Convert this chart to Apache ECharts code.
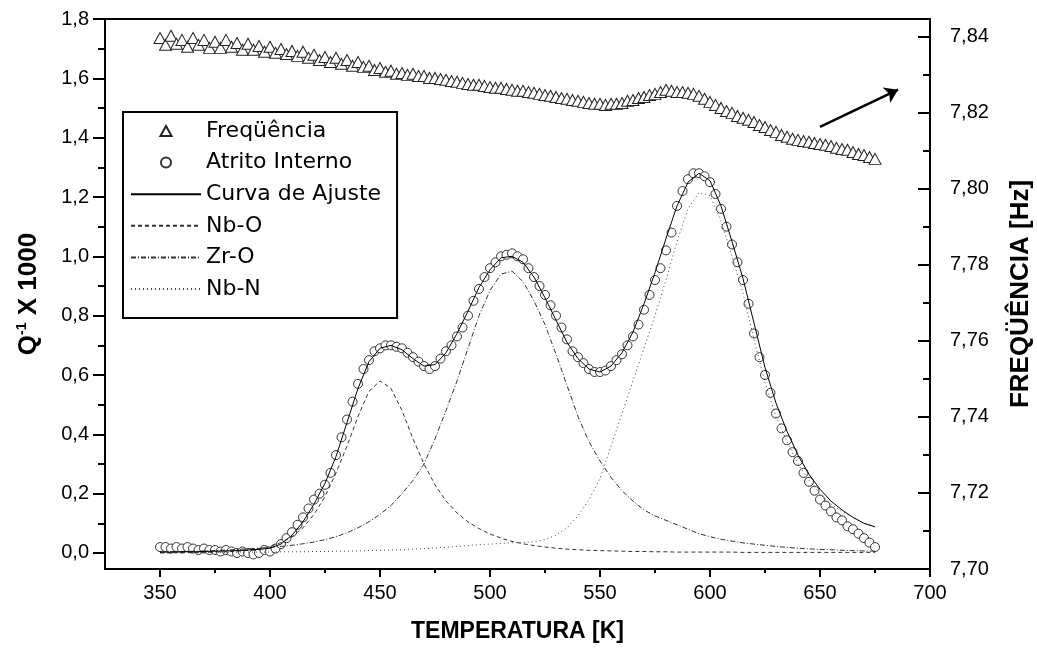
<!DOCTYPE html>
<html><head><meta charset="utf-8">
<script src="https://cdn.jsdelivr.net/npm/echarts@6/dist/echarts.min.js"></script>
<style>html,body{margin:0;padding:0;background:#fff}#c{width:1037px;height:651px}</style>
</head><body><div id="c"></div><script>
// ---- data ----
const scatterTemps = [350,352.5,355,357.5,360,362.5,365,367.5,370,372.5,375,377.5,380,382.5,385,387.5,390,392.5,395,397.5,
400,402.5,405,407.5,410,412.5,415,417.5,420,422.5,425,427.5,430,432.5,435,437.5,440,442.5,445,447.5,
450,452.5,455,457.5,460,462.5,465,467.5,470,472.5,475,477.5,480,482.5,485,487.5,490,492.5,495,497.5,
500,502.5,505,507.5,510,512.5,515,517.5,520,522.5,525,527.5,530,532.5,535,537.5,540,542.5,545,547.5,
550,552.5,555,557.5,560,562.5,565,567.5,570,572.5,575,577.5,580,582.5,585,587.5,590,592.5,595,597.5,
600,602.5,605,607.5,610,612.5,615,617.5,620,622.5,625,627.5,630,632.5,635,637.5,640,642.5,645,647.5,
650,652.5,655,657.5,660,662.5,665,667.5,670,672.5,675];
const frequency = [7.8397,7.8379,7.8403,7.8382,7.8392,7.8374,7.8397,7.8379,7.8392,7.8371,7.8387,7.8371,7.8392,7.8374,7.8384,7.8366,7.8382,7.8366,7.8376,7.8361,
7.8374,7.8358,7.8368,7.8355,7.8363,7.8350,7.8361,7.8345,7.8353,7.8339,7.8347,7.8334,7.8345,7.8329,7.8339,7.8324,7.8334,7.8321,7.8324,7.8313,
7.8318,7.8308,7.8311,7.8303,7.8305,7.8300,7.8303,7.8297,7.8297,7.8292,7.8292,7.8289,7.8287,7.8284,7.8282,7.8279,7.8276,7.8274,7.8274,7.8271,
7.8268,7.8266,7.8266,7.8263,7.8261,7.8258,7.8258,7.8255,7.8253,7.8250,7.8247,7.8245,7.8242,7.8239,7.8237,7.8234,7.8232,7.8229,7.8226,7.8224,
7.8224,7.8221,7.8224,7.8224,7.8226,7.8232,7.8234,7.8239,7.8242,7.8247,7.8250,7.8255,7.8261,7.8258,7.8255,7.8255,7.8253,7.8250,7.8245,7.8237,
7.8229,7.8221,7.8213,7.8205,7.8200,7.8192,7.8187,7.8182,7.8176,7.8168,7.8163,7.8155,7.8150,7.8142,7.8137,7.8132,7.8129,7.8126,7.8124,7.8121,
7.8118,7.8116,7.8113,7.8108,7.8105,7.8103,7.8097,7.8092,7.8089,7.8084,7.8079];
const internalFriction = [0.02,0.02,0.015,0.02,0.015,0.02,0.015,0.01,0.015,0.01,0.01,0.005,0.01,0.005,0.0,0.005,0.0,-0.005,0.0,0.01,
0.005,0.015,0.03,0.05,0.07,0.095,0.12,0.15,0.18,0.2,0.23,0.27,0.33,0.39,0.45,0.51,0.57,0.62,0.65,0.68,
0.69,0.7,0.7,0.695,0.69,0.675,0.66,0.645,0.63,0.62,0.63,0.655,0.68,0.7,0.73,0.76,0.8,0.85,0.89,0.93,
0.96,0.98,1.0,1.005,1.01,1.0,0.99,0.96,0.93,0.9,0.87,0.835,0.8,0.76,0.72,0.68,0.66,0.64,0.62,0.61,
0.61,0.615,0.63,0.65,0.67,0.7,0.73,0.77,0.82,0.87,0.92,0.96,1.02,1.08,1.17,1.22,1.26,1.28,1.28,1.27,
1.25,1.21,1.16,1.1,1.04,0.98,0.92,0.84,0.74,0.66,0.6,0.54,0.47,0.42,0.38,0.34,0.31,0.27,0.24,0.21,
0.18,0.16,0.14,0.12,0.11,0.09,0.08,0.065,0.05,0.035,0.02];
const curveTemps = [350,355,360,365,370,375,380,385,390,395,400,405,410,415,420,425,430,435,440,445,
450,455,460,465,470,475,480,485,490,495,500,505,510,515,520,525,530,535,540,545,
550,555,560,565,570,575,580,585,590,595,600,605,610,615,620,625,630,635,640,645,
650,655,660,665,670,675];
const fitCurve = [0.003,0.003,0.004,0.004,0.005,0.006,0.007,0.008,0.010,0.012,0.016,0.030,0.060,0.105,0.165,0.235,0.325,0.440,0.555,0.645,
0.690,0.700,0.685,0.655,0.630,0.635,0.675,0.740,0.815,0.895,0.955,0.995,1.000,0.980,0.930,0.860,0.785,0.710,0.655,0.620,
0.610,0.630,0.675,0.745,0.840,0.945,1.060,1.170,1.250,1.280,1.255,1.170,1.050,0.925,0.775,0.625,0.505,0.410,0.330,0.265,
0.215,0.175,0.145,0.120,0.100,0.088];
const nbO = [0.000,0.000,0.001,0.001,0.002,0.003,0.004,0.006,0.009,0.014,0.022,0.035,0.055,0.085,0.130,0.190,0.270,0.360,0.460,0.545,
0.580,0.555,0.480,0.385,0.300,0.230,0.175,0.135,0.105,0.082,0.064,0.050,0.039,0.031,0.025,0.020,0.016,0.013,0.011,0.009,
0.008,0.007,0.006,0.005,0.005,0.004,0.004,0.003,0.003,0.003,0.003,0.003,0.003,0.002,0.002,0.002,0.002,0.002,0.002,0.002,
0.002,0.002,0.002,0.002,0.002,0.002];
const zrO = [0.003,0.004,0.005,0.006,0.007,0.008,0.010,0.012,0.014,0.016,0.019,0.022,0.026,0.031,0.037,0.045,0.055,0.068,0.085,0.105,
0.130,0.160,0.200,0.245,0.300,0.385,0.480,0.580,0.690,0.800,0.885,0.940,0.950,0.915,0.850,0.770,0.670,0.565,0.460,0.375,
0.310,0.255,0.210,0.175,0.145,0.125,0.110,0.095,0.080,0.065,0.055,0.046,0.040,0.034,0.030,0.026,0.022,0.019,0.016,0.014,
0.012,0.011,0.009,0.008,0.007,0.006];
const nbN = [0.002,0.002,0.002,0.002,0.002,0.002,0.003,0.003,0.003,0.003,0.003,0.004,0.004,0.004,0.005,0.005,0.006,0.006,0.007,0.008,
0.009,0.010,0.011,0.013,0.015,0.017,0.019,0.022,0.025,0.028,0.030,0.032,0.034,0.036,0.038,0.045,0.060,0.085,0.125,0.180,
0.250,0.360,0.470,0.580,0.690,0.800,0.920,1.050,1.160,1.215,1.205,1.120,1.000,0.875,0.720,0.575,0.460,0.375,0.300,0.245,
0.200,0.165,0.140,0.120,0.100,0.088];
const xMajorTicks = [350,400,450,500,550,600,650,700];
const xMinorTicks = [375,425,475,525,575,625,675];
const qMajorTicks = [0,0.2,0.4,0.6,0.8,1.0,1.2,1.4,1.6,1.8];
const qMinorTicks = [0.1,0.3,0.5,0.7,0.9,1.1,1.3,1.5,1.7];
const fMajorTicks = [7.70,7.72,7.74,7.76,7.78,7.80,7.82,7.84];
const fMinorTicks = [7.71,7.73,7.75,7.77,7.79,7.81,7.83];
const arrowStart = [650, 7.8163];
const arrowEnd = [685.5, 7.8261];
const seriesNames = ['Freqüência','Atrito Interno','Curva de Ajuste','Nb-O','Zr-O','Nb-N'];

// ---- chart ----
const zip = (xs, ys) => xs.map((x, i) => [x, ys[i]]);
const FONT = 'Liberation Sans, Arial, sans-serif';
const XMIN = 325, XMAX = 700, QMIN = -0.054, QMAX = 1.8, FMIN = 7.70, FMAX = 7.8447;
const black = {color: '#000', width: 2};
const noSymbolStyle = {color: 'rgba(0,0,0,0)', borderColor: 'rgba(0,0,0,0)', borderWidth: 0};

function hiddenAxis(extra) {
  return Object.assign({
    type: 'value', axisLine: {show: false, onZero: false}, axisLabel: {show: false},
    splitLine: {show: false}
  }, extra);
}

const legendData = seriesNames.map((n, i) => i === 0 ? {name: n, icon: 'path://M5,0L10,9L0,9Z'} : {name: n});

const chart = echarts.init(document.getElementById('c'), null, {renderer: 'canvas'});
chart.setOption({
  animation: false,
  backgroundColor: '#fff',
  grid: {left: 105, right: 107, top: 19, bottom: 82, containLabel: false, outerBoundsMode: 'none'},
  legend: {
    orient: 'vertical', left: 123, top: 112, data: legendData,
    itemWidth: 70, itemHeight: 10, itemGap: 9.6, padding: [8, 16, 18, 7],
    symbolKeepAspect: true,
    borderColor: '#000', borderWidth: 2, backgroundColor: '#fff', selectedMode: false,
    textStyle: {fontFamily: 'DejaVu Sans', fontSize: 22, lineHeight: 20, color: '#000'}
  },
  xAxis: [
    {type: 'value', position: 'bottom', min: XMIN, max: XMAX,
     axisLine: {show: true, onZero: false, lineStyle: black},
     axisTick: {show: true, length: 8, customValues: xMajorTicks, lineStyle: black},
     axisLabel: {customValues: xMajorTicks, fontSize: 20, margin: 14, color: '#000', fontFamily: FONT},
     splitLine: {show: false},
     name: 'TEMPERATURA [K]', nameLocation: 'middle', nameGap: 51,
     nameTextStyle: {fontWeight: 'bold', fontSize: 23, color: '#000', fontFamily: FONT}},
    hiddenAxis({position: 'bottom', min: XMIN, max: XMAX,
     axisTick: {show: true, length: 4, customValues: xMinorTicks, lineStyle: black}}),
    hiddenAxis({position: 'top', min: XMIN, max: XMAX,
     axisLine: {show: true, onZero: false, lineStyle: black}, axisTick: {show: false}})
  ],
  yAxis: [
    {type: 'value', position: 'left', min: QMIN, max: QMAX,
     axisLine: {show: true, onZero: false, lineStyle: black},
     axisTick: {show: true, length: 12, customValues: qMajorTicks, lineStyle: black},
     axisLabel: {customValues: qMajorTicks, fontSize: 20, margin: 16, color: '#000', fontFamily: FONT,
       formatter: v => v.toFixed(1).replace('.', ',')},
     splitLine: {show: false},
     name: '{a|Q}{s|-1}{a| X 1000}', nameLocation: 'middle', nameGap: 62, nameRotate: 90,
     nameTextStyle: {color: '#000', rich: {
       a: {fontSize: 26, fontWeight: 'bold', fontFamily: FONT, lineHeight: 28},
       s: {fontSize: 14, fontWeight: 'bold', fontFamily: FONT, lineHeight: 16, verticalAlign: 'top'}}}},
    hiddenAxis({position: 'left', min: QMIN, max: QMAX,
     axisTick: {show: true, length: 7, customValues: qMinorTicks, lineStyle: black}}),
    {type: 'value', position: 'right', min: FMIN, max: FMAX,
     axisLine: {show: true, onZero: false, lineStyle: black},
     axisTick: {show: true, inside: true, length: 12, customValues: fMajorTicks, lineStyle: black},
     axisLabel: {customValues: fMajorTicks, fontSize: 20, margin: 20, color: '#000', fontFamily: FONT,
       formatter: v => v.toFixed(2).replace('.', ',')},
     splitLine: {show: false},
     name: 'FREQÜÊNCIA [Hz]', nameLocation: 'middle', nameGap: 78, nameRotate: 90,
     nameTextStyle: {fontWeight: 'bold', fontSize: 26, color: '#000', fontFamily: FONT}},
    hiddenAxis({position: 'right', min: FMIN, max: FMAX,
     axisTick: {show: true, inside: true, length: 7, customValues: fMinorTicks, lineStyle: black}})
  ],
  series: [
    {name: seriesNames[0], type: 'scatter', xAxisIndex: 0, yAxisIndex: 2,
     data: zip(scatterTemps, frequency), symbol: 'triangle', symbolSize: [12, 11],
     itemStyle: {color: '#fff', borderColor: '#222', borderWidth: 1, opacity: 1}, z: 2,
     markLine: {silent: true, symbol: ['none', 'arrow'], symbolSize: 13, label: {show: false},
       lineStyle: {color: '#000', width: 2.5, type: 'solid'},
       emphasis: {disabled: true},
       data: [[{coord: arrowStart}, {coord: arrowEnd}]]}},
    {name: seriesNames[1], type: 'scatter', xAxisIndex: 0, yAxisIndex: 0,
     data: zip(scatterTemps, internalFriction), symbol: 'circle', symbolSize: 9,
     itemStyle: {color: '#fff', borderColor: '#333', borderWidth: 1, opacity: 1}, z: 2},
    {name: seriesNames[2], type: 'line', xAxisIndex: 0, yAxisIndex: 0, data: zip(curveTemps, fitCurve),
     symbol: 'none', itemStyle: noSymbolStyle, lineStyle: {color: '#000', width: 1}, z: 4},
    {name: seriesNames[3], type: 'line', xAxisIndex: 0, yAxisIndex: 0, data: zip(curveTemps, nbO),
     symbol: 'none', itemStyle: noSymbolStyle, lineStyle: {color: '#333', width: 1, type: [4, 3]}, z: 3},
    {name: seriesNames[4], type: 'line', xAxisIndex: 0, yAxisIndex: 0, data: zip(curveTemps, zrO),
     symbol: 'none', itemStyle: noSymbolStyle, lineStyle: {color: '#333', width: 1, type: [5, 2, 1, 2]}, z: 3},
    {name: seriesNames[5], type: 'line', xAxisIndex: 0, yAxisIndex: 0, data: zip(curveTemps, nbN),
     symbol: 'none', itemStyle: noSymbolStyle, lineStyle: {color: '#444', width: 1, type: [1, 3]}, z: 3}
  ]
});
</script></body></html>
